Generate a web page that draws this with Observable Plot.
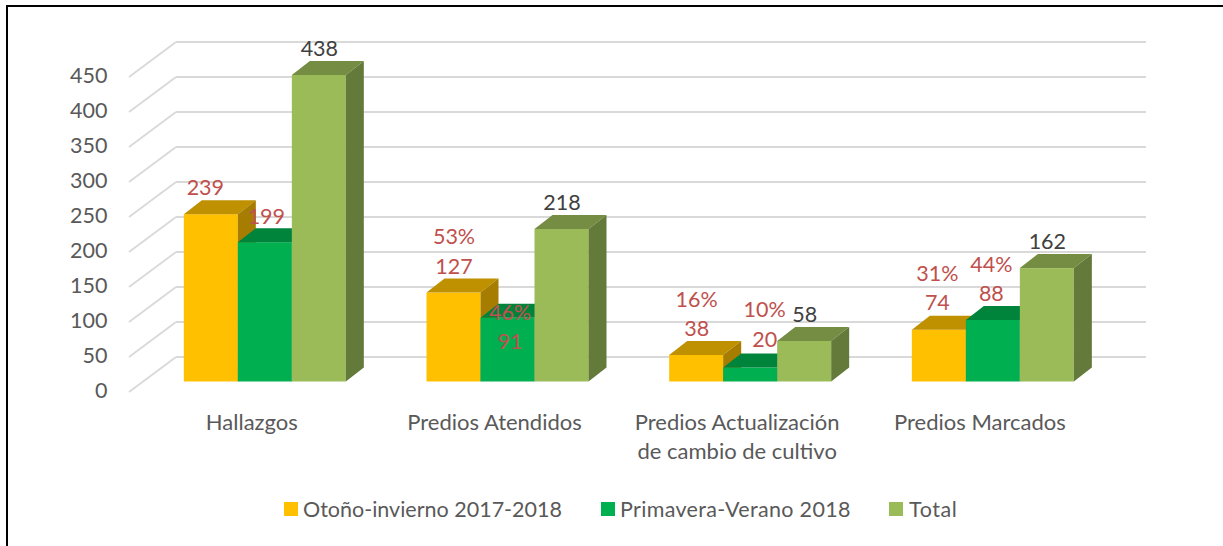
<!DOCTYPE html>
<html lang="es">
<head>
<meta charset="utf-8">
<script src="https://cdn.jsdelivr.net/npm/d3@7"></script>
<script src="https://cdn.jsdelivr.net/npm/@observablehq/plot@0.6"></script>
<style>
  html, body { margin: 0; padding: 0; background: #fff; }
  #frame { position: absolute; left: 6px; top: 5px; width: 1217px; height: 541px; box-sizing: border-box;
           border-left: 2px solid #000; border-top: 2px solid #000; overflow: hidden; }
  #chart { position: absolute; left: -8px; top: -7px; width: 1223px; }
  #chart svg { display: block; background: transparent; }
  #legend { position: absolute; left: -8px; top: 487px; width: 1223px; height: 30px;
            font: 21.5px Lato, sans-serif; color: #595959; }
  #legend span { position: absolute; top: 0; line-height: 30px; white-space: nowrap; }
  #legend i { position: absolute; top: 8px; width: 14px; height: 14px; }
</style>
</head>
<body>
<div id="frame"><div id="chart"></div><div id="legend"></div></div>
<script>
const categories = ["Hallazgos", "Predios Atendidos", "Predios Actualización\nde cambio de cultivo", "Predios Marcados"];
const seriesNames = ["Otoño-invierno 2017-2018", "Primavera-Verano 2018", "Total"];
const otono = [239, 127, 38, 74];
const primavera = [199, 91, 20, 88];
const total = [438, 218, 58, 162];
const pctOtono = [null, "53%", "16%", "31%"];
const pctPrimavera = [null, "46%", "10%", "44%"];
const yTicks = [0, 50, 100, 150, 200, 250, 300, 350, 400, 450];

const frontColors = ["#FFC000", "#00B050", "#9BBB59"];
const topColors = ["#BF9000", "#00843C", "#758D43"];
const sideColors = ["#A67D00", "#007334", "#647A3A"];
const labelColors = ["#C0504D", "#C0504D", "#404040"];

const W = 1223, H = 488;
const bandW = 242.67, barW = 54, depthX = 18, depthY = 14;
const fontFamily = "Lato, sans-serif";

const values = [otono, primavera, total];
const table = values.flatMap((vals, s) => vals.map((v, c) => ({
  category: categories[c], series: s, value: v,
  pct: s === 0 ? pctOtono[c] : s === 1 ? pctPrimavera[c] : null
})));

// per-label nudges, layout only: [series][category]
const nudgeX = [[-6, 0, 0, -2], [1, 2, 14, -2], [0, 0, 0, 0]];
const nudgeY = [[-27, -26, -26, -27], [-26, 24, -28, -26], [-26, -26, -26, -26]];
const pctGap = -29.5;

const offsetOf = s => (s - 1) * barW;

// Top and side faces of each bar, positioned from the plot's own scales
const faces = s => (index, scales) => {
  const g = d3.create("svg:g");
  for (const d of table.filter(d => d.series === s)) {
    const x0 = scales.x(d.category) + bandW / 2 + offsetOf(s) - barW / 2;
    const x1 = x0 + barW;
    const yt = scales.y(d.value), yb = scales.y(0);
    g.append("polygon").attr("fill", topColors[s])
      .attr("points", [[x0, yt], [x0 + depthX, yt - depthY], [x1 + depthX, yt - depthY], [x1, yt]].join(" "));
    g.append("polygon").attr("fill", sideColors[s])
      .attr("points", [[x1, yt], [x1 + depthX, yt - depthY], [x1 + depthX, yb - depthY], [x1, yb]].join(" "));
  }
  return g.node();
};

// Side-wall grid lines, from the floor's front edge to the back wall
const wallDiagonals = (index, scales) => {
  const g = d3.create("svg:g").attr("stroke", "#D9D9D9").attr("stroke-width", 1.8);
  for (const v of yTicks) {
    g.append("line").attr("x1", 129).attr("x2", 176)
      .attr("y1", scales.y(v) + 10.5).attr("y2", scales.y(v) - 24.5);
  }
  return g.node();
};

const plot = Plot.plot({
  width: W, height: H,
  marginLeft: 110, marginRight: 0, marginTop: 0, marginBottom: 79,
  style: { fontFamily, fontSize: "21.5px", background: "transparent", overflow: "visible" },
  x: { type: "band", domain: categories, range: [143.5, 143.5 + 4 * bandW], padding: 0, round: false, axis: null },
  y: { domain: [0, 500], range: [381.5, 31.5], axis: null },
  marks: [
    Plot.ruleY(yTicks, { y: d => d, dy: -25, insetLeft: 66, insetRight: 77, stroke: "#D9D9D9", strokeWidth: 2 }),
    wallDiagonals,
    Plot.axisY({ ticks: yTicks, tickSize: 0, tickPadding: 3, dy: 9.5, label: null, color: "#595959", fontSize: 21.5, textStroke: "none" }),
    Plot.axisX({ tickSize: 0, tickPadding: 0, dx: -13.5, label: null, color: "#595959", fontSize: 22, lineHeight: 1.32 }),
    ...seriesNames.flatMap((name, s) => [
      Plot.barY(table.filter(d => d.series === s), {
        x: "category", y: "value", fill: frontColors[s], dx: offsetOf(s),
        insetLeft: (bandW - barW) / 2, insetRight: (bandW - barW) / 2
      }),
      faces(s)
    ]),
    ...seriesNames.flatMap((name, s) => table.filter(d => d.series === s).flatMap((d, c) => [
      Plot.text([d], { x: "category", y: "value", text: d => String(d.value), dx: offsetOf(s) + nudgeX[s][c], dy: nudgeY[s][c],
        fill: labelColors[s], fontSize: 21.5, stroke: null }),
      ...(d.pct ? [Plot.text([d], { x: "category", y: "value", text: "pct", dx: offsetOf(s) + nudgeX[s][c], dy: nudgeY[s][c] + pctGap,
        fill: labelColors[s], fontSize: 21.5, stroke: null })] : [])
    ]))
  ]
});
document.getElementById("chart").append(plot);

const legendText = [303, 620, 909];
const legendSwatch = [284, 601, 889];
const legendSpacing = [0, 0.33, 0.6];
const legend = document.getElementById("legend");
seriesNames.forEach((name, s) => {
  const sw = document.createElement("i");
  sw.style.left = legendSwatch[s] + "px";
  sw.style.background = frontColors[s];
  legend.append(sw);
  const t = document.createElement("span");
  t.style.left = legendText[s] + "px";
  t.style.letterSpacing = legendSpacing[s] + "px";
  t.textContent = name;
  legend.append(t);
});
</script>
</body>
</html>
